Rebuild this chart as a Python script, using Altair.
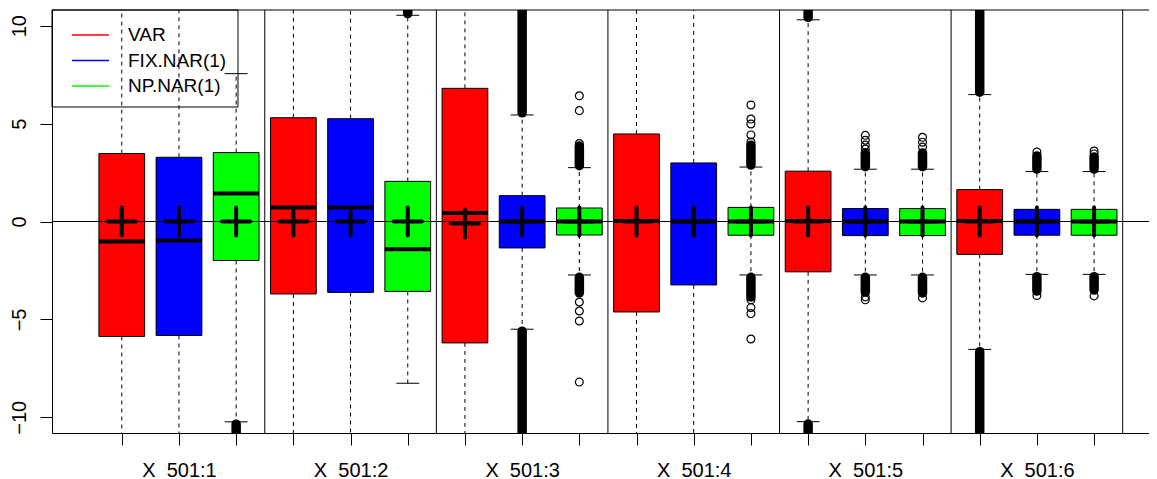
import json
import altair as alt
import pandas as pd

# ---------------- data ----------------
groups = ["X\u00a0 501:1", "X\u00a0 501:2", "X\u00a0 501:3",
          "X\u00a0 501:4", "X\u00a0 501:5", "X\u00a0 501:6"]
series = ["VAR", "FIX.NAR(1)", "NP.NAR(1)"]
colors = ["#FF0000", "#0000FF", "#00FF00"]

# one value per box, boxes ordered group by group (VAR, FIX, NP)
q3 = [3.47, 3.28, 3.52, 5.30, 5.25, 2.05, 6.80, 1.32, 0.69,
      4.47, 2.99, 0.72, 2.57, 0.66, 0.66, 1.63, 0.62, 0.62]
median = [-1.02, -0.97, 1.43, 0.72, 0.72, -1.42, 0.43, 0.00, 0.00,
          0.02, 0.00, 0.00, 0.03, 0.00, 0.00, 0.03, 0.00, 0.00]
q1 = [-5.87, -5.82, -1.99, -3.70, -3.62, -3.57, -6.20, -1.35, -0.69,
      -4.62, -3.24, -0.70, -2.57, -0.72, -0.72, -1.68, -0.70, -0.70]
# whisker ends (12 / -12 = beyond the visible range)
whisker_hi = [12, 12, 7.55, 12, 12, 10.53, 12, 5.44, 2.75,
              12, 12, 2.78, 10.30, 2.67, 2.67, 6.48, 2.55, 2.55]
whisker_lo = [-12, -12, -10.23, -12, -12, -8.26, -12, -5.50, -2.73,
              -12, -12, -2.73, -10.22, -2.73, -2.73, -6.53, -2.70, -2.70]
means = [0.0, 0.0, 0.0, 0.0, 0.0, 0.0, -0.1, 0.0, 0.0,
         0.0, 0.0, 0.0, 0.0, 0.0, 0.0, 0.0, 0.0, 0.0]

# isolated outliers (box number, value)
outlier_box = [9, 9, 9, 9, 9, 9, 9,
               12, 12, 12, 12, 12, 12, 12, 12, 12,
               14, 14, 14, 14, 14, 14,
               15, 15, 15, 15,
               17, 17,
               18, 18, 18]
outlier_val = [3.98, 5.66, 6.42, -4.11, -4.57, -5.08, -8.20,
               5.95, 5.23, 4.98, 4.42, 4.06, -4.00, -4.40, -4.70, -6.00,
               4.40, 4.15, 3.90, 3.70, -3.85, -4.00,
               4.30, 4.05, 3.80, -3.90,
               3.55, -3.78,
               3.60, 3.45, -3.80]

# runs of overlapping outliers (box number, from, to)
dense_box = [3, 6, 8, 8, 9, 9, 12, 12, 13, 13, 14, 14, 15, 15, 16, 16, 17, 17, 18, 18]
dense_from = [-10.35, 10.62, 5.55, -5.60, 2.85, -2.85, 2.88, -2.85, 10.42, -10.34,
              2.80, -2.85, 2.80, -2.85, 6.60, -6.65, 2.68, -2.82, 2.68, -2.82]
dense_to = [-12, 12, 12, -12, 3.85, -3.65, 3.90, -3.85, 12, -12,
            3.50, -3.60, 3.50, -3.65, 12, -12, 3.35, -3.55, 3.30, -3.50]

# ---------------- tables ----------------
n = len(q3)
pos = list(range(1, n + 1))
boxes = pd.DataFrame({
    "pos": pos, "q1": q1, "q3": q3, "median": median, "mean": means,
    "whi": whisker_hi, "wlo": whisker_lo,
    "series": [series[(p - 1) % 3] for p in pos],
    "fill": [colors[(p - 1) % 3] for p in pos],
})
whisk = pd.DataFrame({
    "pos": pos * 2,
    "a": q3 + q1,
    "b": whisker_hi + whisker_lo,
})
outs = pd.DataFrame({"pos": outlier_box, "v": outlier_val})
dense = pd.DataFrame({"pos": dense_box, "a": dense_from, "b": dense_to})
seps = pd.DataFrame({"x": [3 * (g + 1) + 0.5 for g in range(len(groups))]})
legend_df = pd.DataFrame({"series": series})
frame_df = pd.DataFrame({"frame": [0]})

tick_labels = []
for g in groups:
    tick_labels += ["", g, ""]
label_expr = json.dumps(tick_labels, ensure_ascii=False) + "[datum.value - 1]"

FONT = "Liberation Sans"
xscale = alt.Scale(domain=[-0.22, 18.96], nice=False, zero=False)
yscale = alt.Scale(domain=[-10.8, 10.8], nice=False, zero=False)
xaxis = alt.Axis(values=pos, labelExpr=label_expr, title=None, tickSize=12,
                 labelPadding=31, labelBaseline="alphabetic", labelFontSize=20,
                 labelFont=FONT, grid=False, labelOverlap=False, labelFlush=False)
yaxis = alt.Axis(values=[-10, -5, 0, 5, 10], title=None, tickSize=12, labelAngle=270,
                 labelAlign="center", labelBaseline="alphabetic", labelPadding=15,
                 labelFontSize=20, labelFont=FONT, grid=False)

X = lambda f: alt.X(f, type="quantitative", scale=xscale, axis=xaxis)
Y = lambda f: alt.Y(f, type="quantitative", scale=yscale, axis=yaxis)

whiskers = alt.Chart(whisk).mark_rule(
    color="black", strokeWidth=1, strokeDash=[4, 4], clip=True
).encode(x=X("pos"), y=Y("a"), y2="b")

caps_hi = alt.Chart(boxes).transform_calculate(
    xa="datum.pos - 0.2", xb="datum.pos + 0.2"
).mark_rule(color="black", strokeWidth=1, clip=True).encode(x=X("xa"), x2="xb", y=Y("whi"))
caps_lo = alt.Chart(boxes).transform_calculate(
    xa="datum.pos - 0.2", xb="datum.pos + 0.2"
).mark_rule(color="black", strokeWidth=1, clip=True).encode(x=X("xa"), x2="xb", y=Y("wlo"))

dense_marks = alt.Chart(dense).mark_rule(
    color="black", strokeWidth=9.5, strokeCap="round", clip=True
).encode(x=X("pos"), y=Y("a"), y2="b")

out_marks = alt.Chart(outs).mark_point(
    shape="circle", filled=False, color="black", size=62, strokeWidth=1.2,
    opacity=1, clip=True
).encode(x=X("pos"), y=Y("v"))

rects = alt.Chart(boxes).transform_calculate(
    xa="datum.pos - 0.4", xb="datum.pos + 0.4"
).mark_rect(stroke="black", strokeWidth=1, clip=True).encode(
    x=X("xa"), x2="xb", y=Y("q1"), y2="q3",
    fill=alt.Fill("fill:N", scale=None),
)
medians = alt.Chart(boxes).transform_calculate(
    xa="datum.pos - 0.4", xb="datum.pos + 0.4"
).mark_rule(color="black", strokeWidth=4, clip=True).encode(x=X("xa"), x2="xb", y=Y("median"))

zero_line = alt.Chart(boxes).mark_rule(color="black", strokeWidth=1).encode(
    y=alt.Y(datum=0, scale=yscale, axis=yaxis)
)
sep_lines = alt.Chart(seps).mark_rule(color="black", strokeWidth=1).encode(x=X("x"))
top_border = alt.Chart(frame_df).mark_rule(color="black", strokeWidth=1).encode(y=alt.value(0))

plus = alt.Chart(boxes).mark_point(
    shape="M-1,0L1,0M0,-1L0,1", filled=False, color="black", size=784,
    strokeWidth=4, strokeCap="round", opacity=1, clip=True
).encode(x=X("pos"), y=Y("mean"))

# legend frame (R draws a box round the legend, without fill)
legend_frame = alt.Chart(frame_df).mark_rect(
    fill=None, fillOpacity=0, stroke="black", strokeWidth=1
).encode(x=alt.value(0), x2=alt.value(186), y=alt.value(0), y2=alt.value(97))

legend_marks = alt.Chart(legend_df).mark_rule(strokeWidth=1.5, clip=True).encode(
    x=alt.value(-200), x2=alt.value(-150), y=alt.value(-200),
    color=alt.Color("series:N", scale=alt.Scale(domain=series, range=colors),
                    legend=alt.Legend(
                        orient="none", legendX=0, legendY=0, title=None,
                        padding=15.5,
                        symbolType="M-2.5,0L2.5,0", symbolSize=219,
                        symbolStrokeWidth=1.5, symbolOffset=13.5,
                        labelOffset=28, labelFontSize=19, labelFont=FONT,
                        labelColor="black", rowPadding=5.5, labelLimit=400,
                    )),
)

chart = alt.layer(
    whiskers, caps_hi, caps_lo, dense_marks, out_marks, rects, medians,
    zero_line, sep_lines, top_border, plus, legend_frame, legend_marks
).properties(
    width=1097, height=423,
    autosize=alt.AutoSizeParams(type="none"),
    padding={"left": 44, "top": 2, "right": 0, "bottom": 46},
).configure_view(stroke=None).configure_axis(
    domainColor="black", tickColor="black", labelColor="black", domainWidth=1, tickWidth=1
)

chart.save("out.html", embed_options={"renderer": "svg", "actions": False})
